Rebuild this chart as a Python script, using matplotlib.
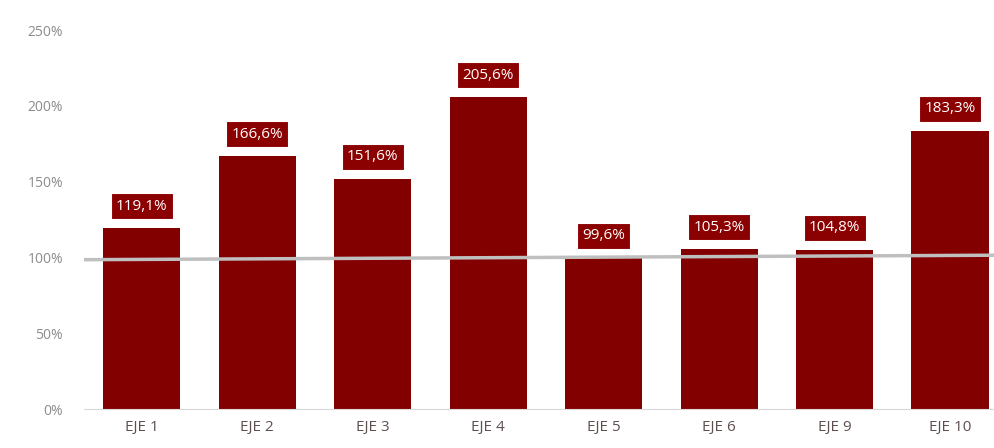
import matplotlib.pyplot as plt
from matplotlib.ticker import FuncFormatter

# data
categories = ["EJE 1", "EJE 2", "EJE 3", "EJE 4", "EJE 5", "EJE 6", "EJE 9", "EJE 10"]
values = [119.1, 166.6, 151.6, 205.6, 99.6, 105.3, 104.8, 183.3]
labels = ["119,1%", "166,6%", "151,6%", "205,6%", "99,6%", "105,3%", "104,8%", "183,3%"]
ref_line = [98.5, 101.5]  # grey reference line, left end / right end
y_ticks = [0, 50, 100, 150, 200, 250]

plt.rcParams['font.family'] = ['Open Sans', 'DejaVu Sans']

fig = plt.figure(figsize=(9.95, 4.48), dpi=100)
ax = fig.add_axes([0.0844, 0.087, 0.9286, 0.846])

x = range(len(categories))
ax.bar(x, values, width=0.67, color="#820000", zorder=2)

for xi, v, lab in zip(x, values, labels):
    ax.annotate(lab, (xi, v), xytext=(0, 16), textcoords="offset points",
                ha="center", va="center", fontsize=11, color="white",
                bbox=dict(boxstyle="square,pad=0.35", facecolor="#8B0000",
                          edgecolor="white", linewidth=0.8), zorder=4)

ax.plot([-0.5, len(categories) - 0.5], ref_line, color="#BFBFBF", lw=2.5, zorder=3)

ax.set_xlim(-0.5, len(categories) - 0.5)
ax.set_ylim(0, 250)
ax.set_yticks(y_ticks)
ax.yaxis.set_major_formatter(FuncFormatter(lambda v, p: f"{v:.0f}%"))
ax.set_xticks(list(x))
ax.set_xticklabels(categories)
ax.tick_params(axis="y", colors="#8C8C8C", labelsize=10, length=0, pad=15)
ax.tick_params(axis="x", colors="#5f4f4f", labelsize=11, length=0, pad=8)

for s in ["top", "right", "left"]:
    ax.spines[s].set_visible(False)
ax.spines["bottom"].set_color("#D9D9D9")

plt.savefig("out.png", dpi=100)
